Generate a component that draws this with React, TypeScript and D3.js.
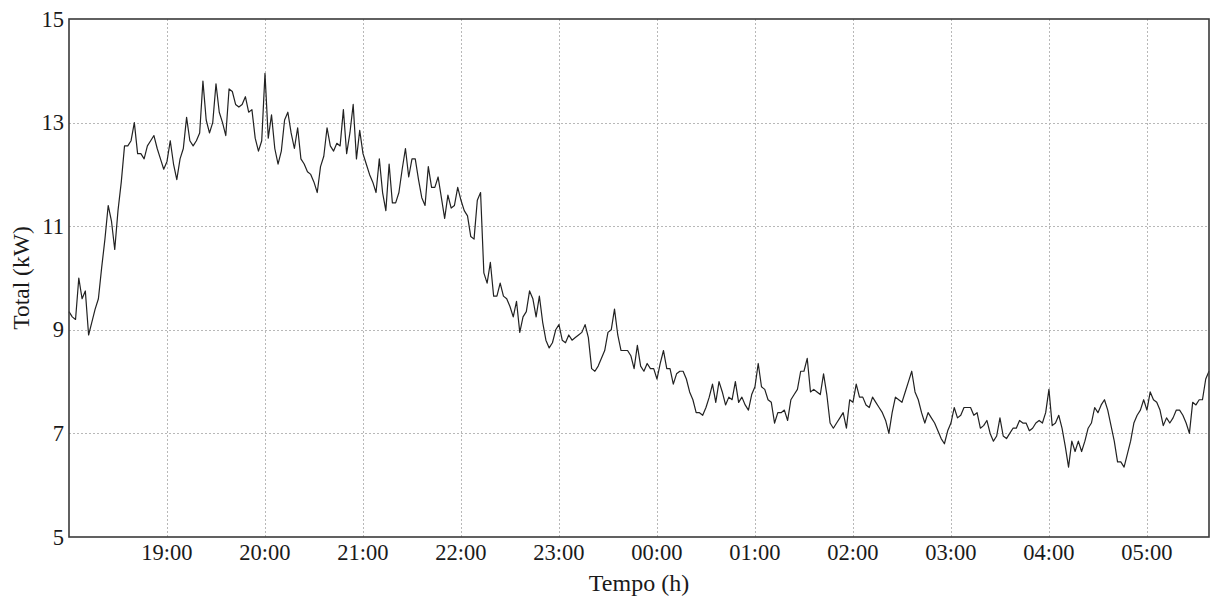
import React from 'react';
import * as d3 from 'd3';

// Total load readings (kW), one every 2 minutes, grouped by the hour they start in.
const kw1800 = [9.35, 9.25, 9.2, 10.0, 9.6, 9.75, 8.9, 9.15, 9.4, 9.6, 10.2, 10.75, 11.4, 11.1, 10.55, 11.3, 11.85, 12.55, 12.55, 12.65, 13.0, 12.4, 12.4, 12.3, 12.55, 12.65, 12.75, 12.5, 12.3, 12.1];
const kw1900 = [12.25, 12.65, 12.2, 11.9, 12.3, 12.5, 13.1, 12.65, 12.55, 12.65, 12.8, 13.8, 13.05, 12.8, 13.0, 13.75, 13.2, 13.0, 12.75, 13.65, 13.6, 13.35, 13.3, 13.35, 13.5, 13.2, 13.25, 12.7, 12.45, 12.65];
const kw2000 = [13.95, 12.7, 13.15, 12.5, 12.2, 12.45, 13.05, 13.2, 12.8, 12.5, 12.9, 12.3, 12.2, 12.05, 12.0, 11.85, 11.65, 12.15, 12.35, 12.9, 12.55, 12.45, 12.6, 12.55, 13.25, 12.4, 12.8, 13.35, 12.3, 12.85];
const kw2100 = [12.4, 12.2, 12.0, 11.85, 11.65, 12.3, 11.65, 11.3, 12.2, 11.45, 11.45, 11.65, 12.1, 12.5, 11.95, 12.3, 12.3, 11.9, 11.55, 11.4, 12.15, 11.75, 11.75, 11.95, 11.55, 11.15, 11.6, 11.35, 11.4, 11.75];
const kw2200 = [11.5, 11.3, 11.2, 10.8, 10.75, 11.5, 11.65, 10.1, 9.9, 10.3, 9.65, 9.65, 9.9, 9.65, 9.6, 9.45, 9.25, 9.55, 8.95, 9.25, 9.35, 9.75, 9.6, 9.25, 9.65, 9.15, 8.8, 8.65, 8.75, 9.0];
const kw2300 = [9.1, 8.8, 8.75, 8.9, 8.8, 8.85, 8.9, 8.95, 9.1, 8.85, 8.25, 8.2, 8.3, 8.45, 8.6, 8.95, 9.0, 9.4, 8.9, 8.6, 8.6, 8.6, 8.5, 8.25, 8.7, 8.3, 8.2, 8.35, 8.25, 8.25];
const kw0000 = [8.05, 8.35, 8.6, 8.25, 8.25, 7.95, 8.15, 8.2, 8.2, 8.05, 7.8, 7.65, 7.4, 7.4, 7.35, 7.5, 7.7, 7.95, 7.6, 8.0, 7.8, 7.55, 7.7, 7.65, 8.0, 7.6, 7.7, 7.55, 7.45, 7.75];
const kw0100 = [7.9, 8.35, 7.9, 7.85, 7.65, 7.6, 7.2, 7.4, 7.4, 7.45, 7.25, 7.65, 7.75, 7.85, 8.2, 8.2, 8.45, 7.8, 7.85, 7.8, 7.75, 8.15, 7.75, 7.2, 7.1, 7.2, 7.3, 7.4, 7.1, 7.65];
const kw0200 = [7.6, 7.95, 7.7, 7.7, 7.55, 7.5, 7.7, 7.6, 7.5, 7.4, 7.25, 7.0, 7.4, 7.7, 7.65, 7.6, 7.8, 8.0, 8.2, 7.8, 7.65, 7.4, 7.2, 7.4, 7.3, 7.2, 7.05, 6.9, 6.8, 7.05];
const kw0300 = [7.2, 7.5, 7.3, 7.35, 7.5, 7.5, 7.5, 7.35, 7.4, 7.1, 7.15, 7.25, 7.0, 6.85, 6.95, 7.3, 6.95, 6.9, 7.0, 7.1, 7.1, 7.25, 7.2, 7.2, 7.05, 7.1, 7.2, 7.25, 7.2, 7.4];
const kw0400 = [7.85, 7.15, 7.2, 7.35, 7.1, 6.75, 6.35, 6.85, 6.65, 6.85, 6.65, 6.85, 7.1, 7.2, 7.5, 7.4, 7.55, 7.65, 7.45, 7.15, 6.85, 6.45, 6.45, 6.35, 6.6, 6.85, 7.2, 7.35, 7.45, 7.65];
const kw0500 = [7.45, 7.8, 7.65, 7.6, 7.45, 7.15, 7.3, 7.2, 7.3, 7.45, 7.45, 7.35, 7.2, 7.0, 7.6, 7.55, 7.65, 7.65, 8.05, 8.2];

const SAMPLE_STEP_MIN = 2;
const START_HOUR = 18;
const SPAN_MIN = 698;

const hourLabels = ['19:00', '20:00', '21:00', '22:00', '23:00', '00:00', '01:00', '02:00', '03:00', '04:00', '05:00'];
const yTicks = [5, 7, 9, 11, 13, 15];

const FONT = '"Liberation Serif", "Times New Roman", serif';

export default function App() {
  const width = 1211;
  const height = 600;
  const plot = { left: 69, right: 1209, top: 19, bottom: 537 };

  const series = [
    ...kw1800, ...kw1900, ...kw2000, ...kw2100, ...kw2200, ...kw2300,
    ...kw0000, ...kw0100, ...kw0200, ...kw0300, ...kw0400, ...kw0500,
  ];

  const start = new Date(2000, 0, 1, START_HOUR, 0);
  const end = new Date(start.getTime() + SPAN_MIN * 60000);
  const points = series.map((v, i) => ({
    t: new Date(start.getTime() + i * SAMPLE_STEP_MIN * 60000),
    v,
  }));

  const x = d3.scaleTime().domain([start, end]).range([plot.left, plot.right]);
  const y = d3.scaleLinear().domain([5, 15]).range([plot.bottom, plot.top]);

  const hourTicks = hourLabels.map((label) => {
    const h = +label.slice(0, 2);
    const day = h < START_HOUR ? 2 : 1;
    return { label, t: new Date(2000, 0, day, h, 0) };
  });

  const line = d3
    .line<{ t: Date; v: number }>()
    .x((d) => x(d.t))
    .y((d) => y(d.v));

  const textColor = '#1a1a1a';

  return (
    <svg
      width={width}
      height={height}
      style={{ position: 'absolute', left: 0, top: 0, background: '#fff' }}
      fontFamily={FONT}
    >
      <rect x={0} y={0} width={width} height={height} fill="#fff" />

      {/* grid */}
      <g stroke="#b8b8b8" strokeWidth={1} strokeDasharray="2,2">
        {yTicks
          .filter((v) => v !== 5 && v !== 15)
          .map((v) => (
            <line key={'gy' + v} x1={plot.left} x2={plot.right} y1={Math.round(y(v)) + 0.5} y2={Math.round(y(v)) + 0.5} />
          ))}
        {hourTicks.map((d) => (
          <line key={'gx' + d.label} x1={Math.round(x(d.t)) + 0.5} x2={Math.round(x(d.t)) + 0.5} y1={plot.top} y2={plot.bottom} />
        ))}
      </g>

      {/* series */}
      <path d={line(points) || ''} fill="none" stroke="#222" strokeWidth={1.2} strokeLinejoin="round" />

      {/* frame */}
      <rect
        x={plot.left}
        y={plot.top}
        width={plot.right - plot.left}
        height={plot.bottom - plot.top}
        fill="none"
        stroke="#3a3a3a"
        strokeWidth={1.6}
      />

      {/* y tick labels */}
      {yTicks.map((v) => (
        <text
          key={'ty' + v}
          x={plot.left - 5}
          y={y(v)}
          textAnchor="end"
          dominantBaseline="central"
          fontSize={22.5}
          fill={textColor}
        >
          {v}
        </text>
      ))}

      {/* x tick labels */}
      {hourTicks.map((d) => (
        <text key={'tx' + d.label} x={x(d.t)} y={560} textAnchor="middle" fontSize={22.5} fill={textColor}>
          {d.label}
        </text>
      ))}

      {/* axis titles */}
      <text x={(plot.left + plot.right) / 2} y={591} textAnchor="middle" fontSize={24} fill={textColor}>
        Tempo (h)
      </text>
      <text
        transform={`translate(29, ${(plot.top + plot.bottom) / 2}) rotate(-90)`}
        textAnchor="middle"
        fontSize={23.5}
        fill={textColor}
      >
        Total (kW)
      </text>
    </svg>
  );
}
